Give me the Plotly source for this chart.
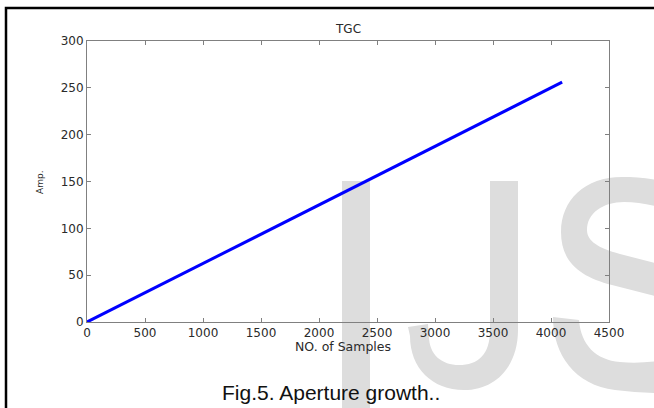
import plotly.graph_objects as go

# Data
samples = [0, 1024, 2048, 3072, 4096]
amp = [0, 64, 128, 192, 256]
x_ticks = [0, 500, 1000, 1500, 2000, 2500, 3000, 3500, 4000, 4500]
y_ticks = [0, 50, 100, 150, 200, 250, 300]
title_text = "TGC"
x_title = "NO. of Samples"
y_title = "Amp."
caption = "Fig.5. Aperture growth.."

W, H = 654, 408
L, R, T, B = 87, 609, 41, 322
PW, PH = R - L, B - T


def px(x):
    return (x - L) / PW


def py(y):
    return (B - y) / PH


def path(cmds):
    out = []
    for c in cmds:
        if isinstance(c, str):
            out.append(c)
        else:
            out.append(f"{px(c[0]):.5f},{py(c[1]):.5f}")
    return " ".join(out)


WM = "rgb(221,221,221)"
shapes = []
# watermark "I"
shapes.append(dict(type="rect", xref="paper", yref="paper", x0=px(342), x1=px(370),
                   y0=py(181), y1=py(430), fillcolor=WM, line=dict(width=0), layer="below"))
# watermark "J"
j = path(["M", (490, 181), "L", (518, 181), "L", (518, 330),
          "C", (518, 366), (496, 390), (464, 390),
          "C", (432, 390), (410, 368), (410, 336),
          "L", (408, 327), "L", (428, 324), "L", (429, 336),
          "C", (429, 355), (442, 365), (459, 365),
          "C", (478, 365), (490, 355), (490, 330), "Z"])
shapes.append(dict(type="path", xref="paper", yref="paper", path=j,
                   fillcolor=WM, line=dict(width=0), layer="below"))
# watermark "S" upper part
s1 = path(["M", (690, 190), "C", (662, 179), (642, 177), (622, 177),
           "C", (585, 177), (561, 200), (561, 232),
           "C", (561, 262), (580, 277), (612, 285),
           "L", (690, 305), "L", (690, 272), "L", (620, 254),
           "C", (598, 248), (587, 241), (587, 230),
           "C", (587, 213), (603, 202), (624, 202),
           "C", (645, 202), (665, 208), (690, 218), "Z"])
shapes.append(dict(type="path", xref="paper", yref="paper", path=s1,
                   fillcolor=WM, line=dict(width=0), layer="below"))
# watermark "S" lower part
s2 = path(["M", (553, 317), "L", (579, 320),
           "C", (581, 345), (596, 360), (620, 362),
           "C", (642, 364), (664, 361), (690, 356),
           "L", (690, 393), "C", (664, 394), (640, 393), (615, 390),
           "C", (575, 385), (553, 355), (553, 317), "Z"])
shapes.append(dict(type="path", xref="paper", yref="paper", path=s2,
                   fillcolor=WM, line=dict(width=0), layer="below"))
# outer frame (left and top visible)
shapes.append(dict(type="rect", xref="paper", yref="paper", x0=px(6), x1=px(720),
                   y0=py(8), y1=py(460), line=dict(color="black", width=2.5),
                   fillcolor="rgba(0,0,0,0)", layer="above"))

fig = go.Figure()
fig.add_trace(go.Scatter(x=samples, y=amp, mode="lines",
                         line=dict(color="#0000ff", width=3), showlegend=False))

axis_common = dict(showgrid=False, zeroline=False, showline=True, linecolor="#808080",
                   linewidth=1, mirror="ticks", ticks="inside", ticklen=4,
                   tickcolor="#808080",
                   tickfont=dict(family="DejaVu Sans", size=12, color="#2a2a2a"))

fig.update_xaxes(range=[0, 4500], tickvals=x_ticks, ticktext=[str(v) for v in x_ticks],
                 **axis_common)
fig.update_yaxes(range=[0, 300], tickvals=y_ticks, ticktext=[str(v) for v in y_ticks],
                 **axis_common)

annotations = [
    dict(text=title_text, x=px(348), y=py(29), xref="paper", yref="paper", showarrow=False,
         font=dict(family="DejaVu Sans", size=12, color="#2a2a2a"), xanchor="center", yanchor="middle"),
    dict(text=x_title, x=px(343), y=py(346), xref="paper", yref="paper", showarrow=False,
         font=dict(family="DejaVu Sans", size=12.5, color="#2a2a2a"), xanchor="center", yanchor="middle"),
    dict(text=y_title, x=px(40), y=py(182), xref="paper", yref="paper", showarrow=False,
         textangle=-90, font=dict(family="DejaVu Sans", size=9, color="#2a2a2a"),
         xanchor="center", yanchor="middle"),
    dict(text=caption, x=px(331), y=py(392), xref="paper", yref="paper", showarrow=False,
         font=dict(family="Liberation Sans, Arial", size=21, color="#111"),
         xanchor="center", yanchor="middle"),
]

fig.update_layout(width=W, height=H, autosize=False,
                  margin=dict(l=L, r=W - R, t=T, b=H - B, pad=0),
                  paper_bgcolor="white", plot_bgcolor="rgba(0,0,0,0)",
                  shapes=shapes, annotations=annotations)

fig.write_html("out.html", config={"displayModeBar": False},
               post_script="document.body.style.margin='0';"
                           "document.body.style.overflow='hidden';")
